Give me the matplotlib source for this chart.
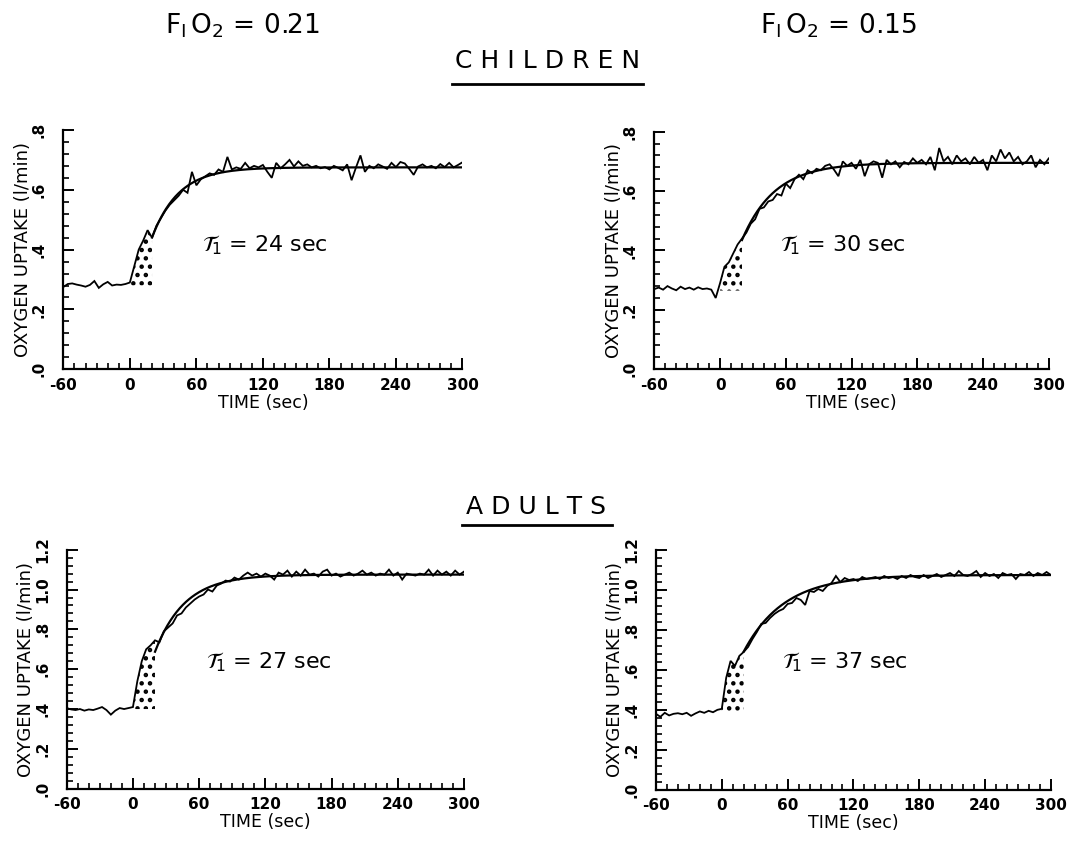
import numpy as np
import matplotlib
matplotlib.use("Agg")
import matplotlib.pyplot as plt
from matplotlib.lines import Line2D
from matplotlib.ticker import MultipleLocator

plt.rcParams["font.family"] = ["DejaVu Sans"]
plt.rcParams["hatch.linewidth"] = 2.0

# Breath-by-breath oxygen uptake (l/min), sampled every 4 s from -60 s to 300 s
time_s = np.arange(-60, 301, 4)

vo2_children_021 = [
    0.275, 0.285, 0.287, 0.283, 0.280, 0.276, 0.282, 0.295, 0.272, 0.284,
    0.292, 0.280, 0.283, 0.282, 0.285,
    0.290, 0.345, 0.400, 0.430, 0.465, 0.440, 0.480, 0.505, 0.530, 0.550,
    0.565, 0.580, 0.600, 0.590, 0.660, 0.615, 0.635, 0.645, 0.655, 0.650,
    0.668, 0.660, 0.710, 0.668, 0.675, 0.670, 0.690, 0.672, 0.680, 0.675,
    0.683, 0.660, 0.640, 0.690, 0.672, 0.685, 0.700, 0.678, 0.695, 0.680,
    0.685, 0.675, 0.680, 0.672, 0.676, 0.668, 0.680, 0.673, 0.665, 0.685,
    0.632, 0.675, 0.715, 0.660, 0.680, 0.672, 0.685, 0.678, 0.670, 0.690,
    0.676, 0.693, 0.688, 0.670, 0.650, 0.678, 0.685, 0.675, 0.680, 0.672,
    0.686, 0.676, 0.690, 0.675, 0.683, 0.692,
]
vo2_children_015 = [
    0.270, 0.275, 0.268, 0.280, 0.272, 0.266, 0.278, 0.270, 0.275, 0.268,
    0.276, 0.270, 0.272, 0.268, 0.240,
    0.290, 0.345, 0.360, 0.390, 0.420, 0.440, 0.460, 0.490, 0.505, 0.540,
    0.545, 0.565, 0.570, 0.590, 0.585, 0.625, 0.610, 0.640, 0.655, 0.640,
    0.670, 0.660, 0.675, 0.670, 0.685, 0.690, 0.672, 0.650, 0.700, 0.685,
    0.695, 0.675, 0.705, 0.650, 0.690, 0.700, 0.695, 0.645, 0.705, 0.690,
    0.700, 0.680, 0.698, 0.690, 0.710, 0.695, 0.705, 0.690, 0.715, 0.670,
    0.745, 0.700, 0.715, 0.690, 0.720, 0.700, 0.710, 0.690, 0.715, 0.695,
    0.705, 0.670, 0.720, 0.700, 0.740, 0.710, 0.730, 0.700, 0.715, 0.690,
    0.700, 0.720, 0.680, 0.705, 0.690, 0.710,
]
vo2_adults_021 = [
    0.405, 0.398, 0.395, 0.400, 0.392, 0.398, 0.395, 0.402, 0.410, 0.395,
    0.372, 0.392, 0.405, 0.400, 0.405,
    0.410, 0.540, 0.640, 0.700, 0.720, 0.745, 0.735, 0.790, 0.810, 0.830,
    0.870, 0.880, 0.910, 0.930, 0.950, 0.965, 0.975, 1.000, 0.990, 1.020,
    1.030, 1.045, 1.040, 1.060, 1.050, 1.070, 1.085, 1.070, 1.080, 1.065,
    1.080, 1.070, 1.050, 1.085, 1.075, 1.095, 1.065, 1.090, 1.070, 1.100,
    1.075, 1.080, 1.065, 1.090, 1.100, 1.070, 1.080, 1.065, 1.075, 1.085,
    1.070, 1.080, 1.095, 1.075, 1.085, 1.070, 1.080, 1.075, 1.100, 1.070,
    1.085, 1.050, 1.080, 1.075, 1.070, 1.080, 1.075, 1.100, 1.070, 1.095,
    1.075, 1.090, 1.070, 1.095, 1.075, 1.090,
]
vo2_adults_015 = [
    0.380, 0.365, 0.385, 0.372, 0.380, 0.383, 0.378, 0.385, 0.370, 0.382,
    0.392, 0.385, 0.395, 0.388, 0.400,
    0.405, 0.560, 0.645, 0.620, 0.670, 0.690, 0.715, 0.755, 0.790, 0.830,
    0.835, 0.860, 0.880, 0.895, 0.905, 0.930, 0.935, 0.960, 0.950, 0.925,
    0.995, 0.990, 1.005, 0.995, 1.020, 1.035, 1.070, 1.040, 1.060, 1.050,
    1.055, 1.045, 1.065, 1.055, 1.060, 1.065, 1.055, 1.070, 1.060, 1.065,
    1.055, 1.070, 1.060, 1.075, 1.065, 1.060, 1.075, 1.060, 1.070, 1.080,
    1.065, 1.075, 1.085, 1.070, 1.095, 1.075, 1.070, 1.080, 1.095, 1.065,
    1.085, 1.070, 1.080, 1.060, 1.085, 1.075, 1.080, 1.055, 1.080, 1.075,
    1.090, 1.070, 1.085, 1.075, 1.090, 1.075,
]

# Fitted phase-2 time constants (s) and mono-exponential fit parameters
tau_children_021, tau_children_015 = 24, 30
tau_adults_021, tau_adults_015 = 27, 37
baseline = {"c21": 0.28, "c15": 0.265, "a21": 0.40, "a15": 0.39}
amplitude = {"c21": 0.395, "c15": 0.43, "a21": 0.675, "a15": 0.685}
delay = {"c21": 7.5, "c15": 4.9, "a21": 5.0, "a15": -1.5}

phase1_end = 20
x_ticks = [-60, 0, 60, 120, 180, 240, 300]
children_yticks = [0.0, 0.2, 0.4, 0.6, 0.8]
children_ylabels = [".0", ".2", ".4", ".6", ".8"]
adults_yticks = [0.0, 0.2, 0.4, 0.6, 0.8, 1.0, 1.2]
adults_ylabels = [".0", ".2", ".4", ".6", ".8", "1.0", "1.2"]

fig = plt.figure(figsize=(10.92, 8.44), dpi=100)

axes_rects = {
    "c21": [0.0580, 0.5625, 0.3655, 0.2835],
    "c15": [0.5992, 0.5625, 0.3612, 0.2815],
    "a21": [0.0611, 0.0655, 0.3638, 0.2832],
    "a15": [0.6007, 0.0643, 0.3617, 0.2840],
}


def draw_panel(key, vo2, tau, yticks, ylabels, label_pos):
    ax = fig.add_axes(axes_rects[key])
    t = time_s
    v = np.asarray(vo2)
    ax.plot(t, v, color="black", lw=1.3, solid_joinstyle="miter")

    tf = np.linspace(phase1_end, 300, 400)
    fit = baseline[key] + amplitude[key] * (1 - np.exp(-(tf - delay[key]) / tau))
    ax.plot(tf, fit, color="black", lw=1.6)

    m = (t >= 0) & (t <= phase1_end)
    ax.fill_between(t[m], baseline[key], v[m], facecolor="none",
                    edgecolor="black", lw=0, hatch="..")

    ax.text(label_pos[0], label_pos[1],
            r"$\mathcal{T}_{\!1}$" + f" = {tau} sec",
            fontsize=16, ha="left", va="center")

    ax.set_xlim(-60, 300)
    ax.set_ylim(yticks[0], yticks[-1])
    ax.set_xticks(x_ticks)
    ax.set_xticklabels([str(x) for x in x_ticks], fontweight="bold")
    ax.xaxis.set_minor_locator(MultipleLocator(10))
    ax.set_yticks(yticks)
    ax.set_yticklabels(ylabels, fontweight="bold", rotation=90, va="center")
    ax.yaxis.set_minor_locator(MultipleLocator(0.04))
    ax.tick_params(which="major", direction="in", length=8, width=1.4,
                   labelsize=11)
    ax.tick_params(axis="x", which="major", pad=6)
    ax.tick_params(axis="y", which="major", pad=12)
    ax.tick_params(which="minor", direction="in", length=4.5, width=1.2)
    ax.tick_params(top=False, right=False)
    for side in ("top", "right"):
        ax.spines[side].set_visible(False)
    for side in ("left", "bottom"):
        ax.spines[side].set_linewidth(1.6)
    ax.set_xlabel("TIME (sec)", fontsize=12.5, labelpad=1)
    ax.set_ylabel("OXYGEN UPTAKE (l/min)", fontsize=13, labelpad=0)
    ax.set_facecolor("none")
    return ax


draw_panel("c21", vo2_children_021, tau_children_021,
           children_yticks, children_ylabels, (65, 0.415))
draw_panel("c15", vo2_children_015, tau_children_015,
           children_yticks, children_ylabels, (55, 0.418))
draw_panel("a21", vo2_adults_021, tau_adults_021,
           adults_yticks, adults_ylabels, (66, 0.637))
draw_panel("a15", vo2_adults_015, tau_adults_015,
           adults_yticks, adults_ylabels, (55, 0.64))

# Column headings: inspired O2 fraction
fig.text(0.222, 0.969, r"F$_{\rm I}\,$O$_2$ = 0.21", fontsize=19,
         ha="center", va="center")
fig.text(0.768, 0.969, r"F$_{\rm I}\,$O$_2$ = 0.15", fontsize=19,
         ha="center", va="center")

# Group headings, underlined
fig.text(0.501, 0.928, " ".join("CHILDREN"), fontsize=18,
         ha="center", va="center")
fig.add_artist(Line2D([0.414, 0.589], [0.9005, 0.9005], color="black",
                      lw=2, transform=fig.transFigure))
fig.text(0.491, 0.399, " ".join("ADULTS"), fontsize=18,
         ha="center", va="center")
fig.add_artist(Line2D([0.423, 0.560], [0.378, 0.378], color="black",
                      lw=2, transform=fig.transFigure))

fig.savefig("out.png", dpi=100, facecolor="white")
